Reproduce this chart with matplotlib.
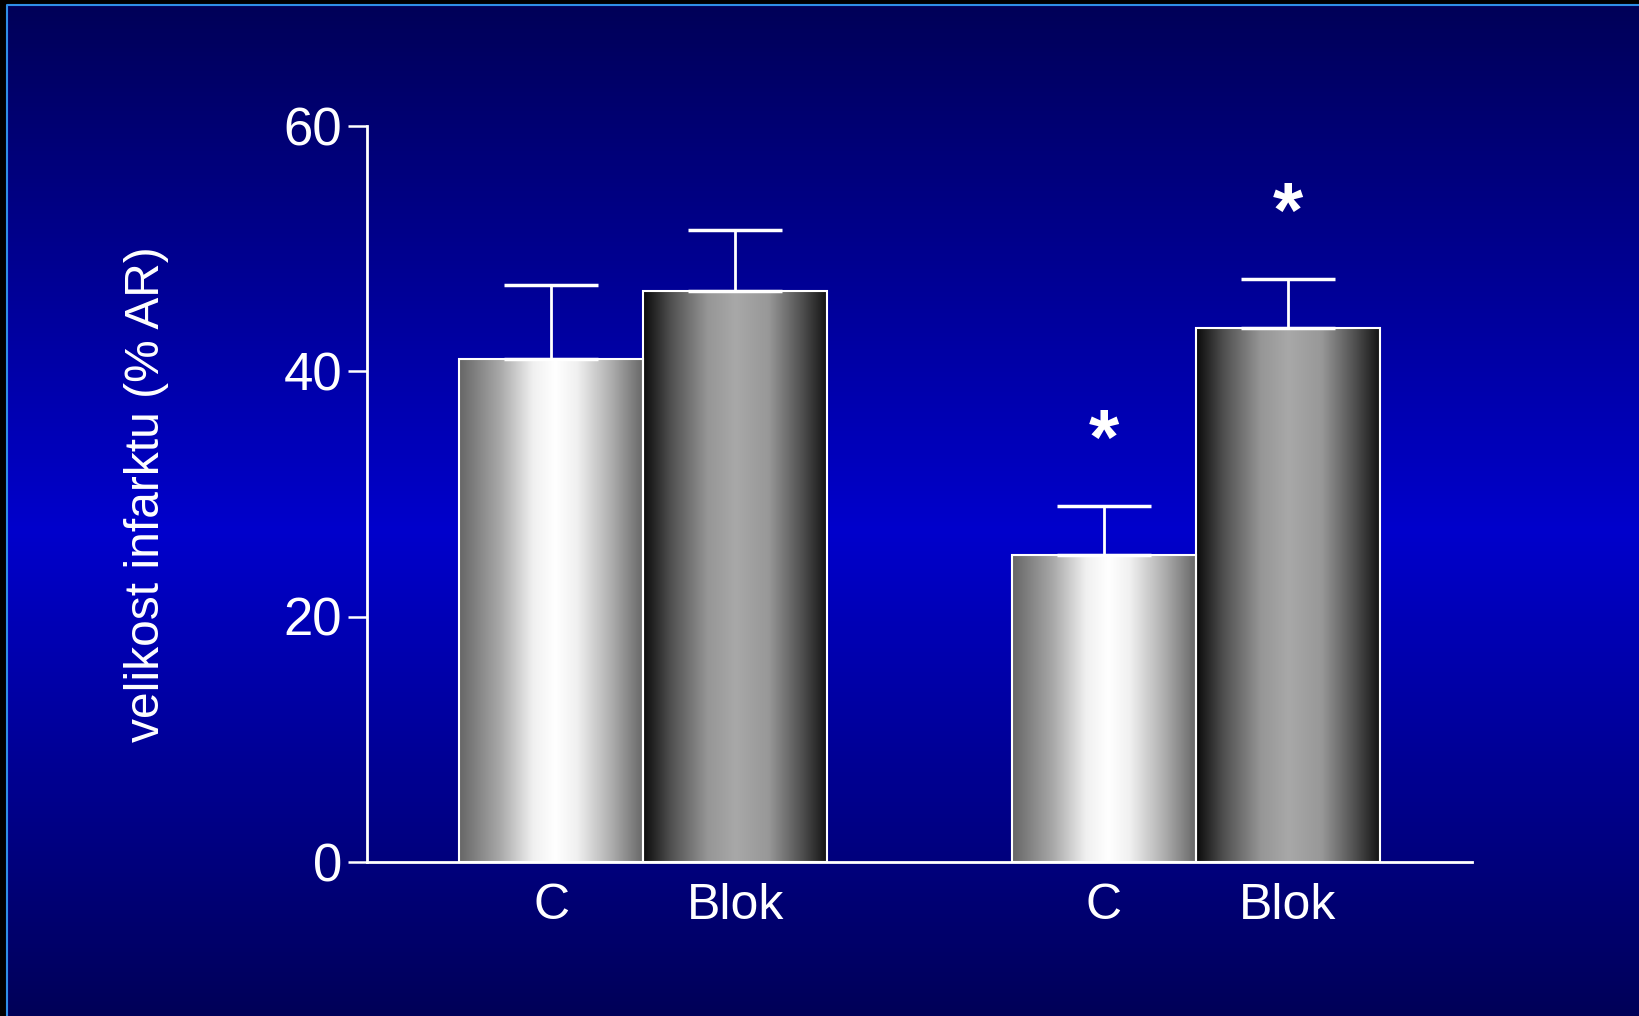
import numpy as np
import matplotlib
matplotlib.use("Agg")
import matplotlib.pyplot as plt
from matplotlib.colors import LinearSegmentedColormap

plt.rcParams['font.family'] = ['Liberation Sans', 'DejaVu Sans']

# data
groups = ['C', 'Blok', 'C', 'Blok']
positions = [1, 2, 4, 5]
means = [41.0, 46.5, 25.0, 43.5]
errs = [6.0, 5.0, 4.0, 4.0]
stars = ['', '', '*', '*']
yticks = [0, 20, 40, 60]
ylabel = 'velikost infarktu (% AR)'

W, H = 1640, 1016
fig = plt.figure(figsize=(W / 100, H / 100), dpi=100, facecolor='black')

# background gradient
bg = fig.add_axes([0, 0, 1, 1])
bg_cmap = LinearSegmentedColormap.from_list(
    'bg', [(0.0, '#000058'), (0.52, '#0000cc'), (1.0, '#000058')])
grad = np.linspace(0, 1, 512).reshape(-1, 1)
bg.imshow(grad, cmap=bg_cmap, aspect='auto', extent=(7, W, H, 5))
bg.plot([7, 7, W], [H, 5, 5], color='#2f8fe8', lw=1.5)
bg.set_xlim(0, W)
bg.set_ylim(H, 0)
bg.axis('off')

ax = fig.add_axes([367 / W, 1 - 862 / H, (1472 - 367) / W, (862 - 125.5) / H])
ax.patch.set_alpha(0)

# bar gradients
light = LinearSegmentedColormap.from_list(
    'light', [(0, '#666666'), (0.22, '#a8a8a8'), (0.4, '#f0f0f0'), (0.52, '#ffffff'),
              (0.64, '#f0f0f0'), (0.82, '#b0b0b0'), (1, '#666666')])
dark = LinearSegmentedColormap.from_list(
    'dark', [(0, '#0a0a0a'), (0.15, '#505050'), (0.35, '#969696'), (0.5, '#a8a8a8'),
             (0.68, '#989898'), (0.86, '#505050'), (1, '#121212')])
hgrad = np.linspace(0, 1, 256).reshape(1, -1)

bars = ax.bar(positions, means, width=1.0, facecolor='none',
              edgecolor='white', linewidth=1.5, zorder=3)
for b, g in zip(bars, groups):
    x0 = b.get_x()
    ax.imshow(hgrad, cmap=light if g == 'C' else dark, aspect='auto',
              extent=(x0, x0 + b.get_width(), 0, b.get_height()), zorder=2)

ax.errorbar(positions, means, yerr=[[0] * 4, errs], fmt='none', ecolor='white',
            elinewidth=2, capsize=34, capthick=2.5, zorder=4)

for x, m, e, s in zip(positions, means, errs, stars):
    if s:
        ax.text(x, m + e + 3.4, s, color='white', fontsize=56, fontweight='bold',
                ha='center', va='baseline')

ax.set_xlim(0, 6)
ax.set_ylim(0, 60)
ax.set_yticks(yticks)
ax.set_xticks(positions)
ax.set_xticklabels(groups)
for sp in ['top', 'right']:
    ax.spines[sp].set_visible(False)
for sp in ['left', 'bottom']:
    ax.spines[sp].set_color('white')
    ax.spines[sp].set_linewidth(2)
ax.tick_params(axis='y', colors='white', labelsize=38, length=14, width=1.8,
               direction='out', pad=4)
ax.tick_params(axis='x', colors='white', labelsize=36, length=0, pad=15)
ax.set_ylabel(ylabel, color='white', fontsize=34.5, labelpad=82)

fig.savefig('out.png', dpi=100, facecolor='black')
